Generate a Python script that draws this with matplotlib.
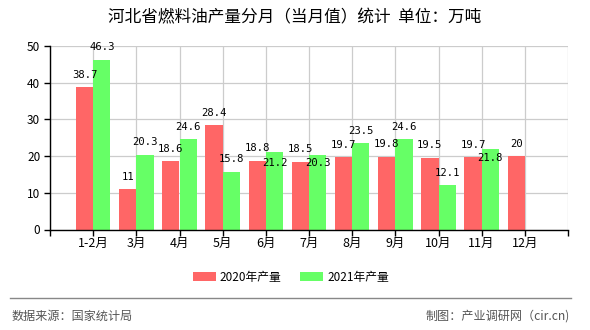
import matplotlib
matplotlib.use("Agg")
import matplotlib.pyplot as plt
import numpy as np

plt.rcParams['font.family'] = ['Noto Sans CJK SC', 'DejaVu Sans']

categories = ['1-2月', '3月', '4月', '5月', '6月', '7月', '8月', '9月', '10月', '11月', '12月']
v2020 = [38.7, 11, 18.6, 28.4, 18.8, 18.5, 19.7, 19.8, 19.5, 19.7, 20]
v2021 = [46.3, 20.3, 24.6, 15.8, 21.2, 20.3, 23.5, 24.6, 12.1, 21.8, None]
yticks = [0, 10, 20, 30, 40, 50]
series_names = ['2020年产量', '2021年产量']

title = '河北省燃料油产量分月（当月值）统计  单位：万吨'
source = '数据来源：国家统计局'
credit = '制图：产业调研网（cir.cn)'

RED = '#ff6666'
GREEN = '#66ff66'
# label vertical offsets (pixels) for the 2021 series (label collisions in original)
green_label_dy = [12.5, 12.5, 12.5, 12.5, -11, -8, 12.5, 12.5, 12.5, -9, 12.5]

fig = plt.figure(figsize=(5.9, 3.3), dpi=100)
ax = fig.add_axes([50 / 590, 1 - 229.5 / 330, (568 - 50) / 590, (229.5 - 46) / 330])

x = np.arange(1, len(categories) + 1)
w = 0.4
ax.bar(x - w / 2, v2020, width=w, color=RED, zorder=3, label=series_names[0])
x21 = [xi for xi, v in zip(x, v2021) if v is not None]
y21 = [v for v in v2021 if v is not None]
ax.bar(np.array(x21) + w / 2, y21, width=w, color=GREEN, zorder=3, label=series_names[1])

lab_font = dict(family=['DejaVu Sans Mono'], fontsize=7.6, color='black')
for xi, v in zip(x, v2020):
    ax.annotate(f'{v:g}', (xi - w / 2, v), xytext=(0, 12.5), textcoords='offset pixels',
                ha='center', va='center', zorder=5, **lab_font)
for xi, v, dy in zip(x, v2021, green_label_dy):
    if v is None:
        continue
    ax.annotate(f'{v:g}', (xi + w / 2, v), xytext=(0, dy), textcoords='offset pixels',
                ha='center', va='center', zorder=5, **lab_font)

ax.set_xlim(0, len(categories) + 1)
ax.set_ylim(0, 50)
ax.set_yticks(yticks)
ax.set_yticklabels([str(t) for t in yticks], fontsize=8.5)
ax.set_xticks(np.arange(0, len(categories) + 2))
ax.set_xticklabels([''] + categories + [''], fontsize=9)
ax.grid(True, color='#cccccc', linewidth=0.9, zorder=0)
ax.set_axisbelow(True)
for s in ['top', 'right']:
    ax.spines[s].set_visible(False)
for s in ['left', 'bottom']:
    ax.spines[s].set_color('black')
    ax.spines[s].set_linewidth(1.0)
    ax.spines[s].set_zorder(4)
ax.tick_params(axis='y', length=4, width=1, color='black', pad=3)
ax.tick_params(axis='x', length=4, width=1, color='black', pad=1.5)

fig.text(0.5, 1 - 18 / 330, title, ha='center', va='center', fontsize=12, color='black')

leg = fig.legend(loc='center', bbox_to_anchor=(291 / 590, 1 - 277 / 330), ncol=2, frameon=False,
                 fontsize=8.5, handlelength=1.9, handleheight=0.85, handletextpad=0.35, columnspacing=1.6)

fig.add_artist(plt.Line2D([10 / 590, 571 / 590], [1 - 297.5 / 330, 1 - 297.5 / 330],
                          color='#888888', linewidth=1.0))
fig.text(12 / 590, 1 - 316 / 330, source, ha='left', va='center', fontsize=8.7, color='#555555')
fig.text(570 / 590, 1 - 316 / 330, credit, ha='right', va='center', fontsize=8.7, color='#555555')

fig.savefig('out.png', dpi=100)
